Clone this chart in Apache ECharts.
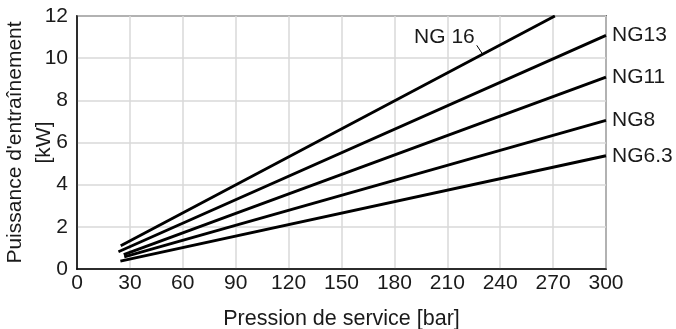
<!DOCTYPE html>
<html>
<head>
<meta charset="utf-8">
<script src="https://cdn.jsdelivr.net/npm/echarts@6/dist/echarts.min.js"></script>
<style>
  html, body { margin: 0; padding: 0; background: #fff; }
  #chart { width: 676px; height: 329px; }
</style>
</head>
<body>
<div id="chart"></div>
<script>
// curve names, start/end points [pressure bar, power kW]
const names = ["NG 16", "NG13", "NG11", "NG8", "NG6.3"];
const startPts = [[24.8, 1.10], [23.5, 0.82], [26.5, 0.68], [26.8, 0.58], [24.6, 0.37]];
const endPts = [[271, 12], [300, 11.08], [300, 9.10], [300, 7.05], [300, 5.37]];
// leader line of the "NG 16" callout
const leader16 = [[226.7, 10.61], [230.1, 10.18]];

const xTicks = [0, 30, 60, 90, 120, 150, 180, 210, 240, 270, 300];
const yTicks = [0, 2, 4, 6, 8, 10, 12];

const font = "'Liberation Sans', Arial, sans-serif";
const ink = "#000";
const textInk = "#1a1a1a";
const fs = 21;

const chart = echarts.init(document.getElementById("chart"), null, { renderer: "canvas" });

const series = names.map((name, i) => {
  const s = {
    name,
    type: "line",
    data: [startPts[i], endPts[i]],
    showSymbol: false,
    symbol: "none",
    silent: true,
    animation: false,
    lineStyle: { color: ink, width: 2.9 },
    endLabel: {
      show: i > 0,
      formatter: name,
      color: textInk,
      fontFamily: font,
      fontSize: fs,
      distance: 6,
    },
  };
  if (i === 0) {
    s.markLine = {
      silent: true,
      symbol: "none",
      animation: false,
      lineStyle: { color: ink, width: 1, type: "solid" },
      label: { show: false },
      data: [[{ coord: leader16[0] }, { coord: leader16[1] }]],
    };
    s.markPoint = {
      silent: true,
      animation: false,
      symbol: "circle",
      symbolSize: 0,
      label: {
        show: true,
        position: "left",
        distance: 2,
        offset: [0, -8],
        formatter: name,
        color: textInk,
        fontFamily: font,
        fontSize: fs,
      },
      data: [{ coord: leader16[0] }],
    };
  }
  return s;
});

chart.setOption({
  animation: false,
  textStyle: { fontFamily: font },
  grid: {
    left: 77, right: 70, top: 16, bottom: 60,
    outerBoundsMode: "none", containLabel: false,
    show: true, borderColor: ink, borderWidth: 1.5,
  },
  xAxis: {
    type: "value",
    min: xTicks[0],
    max: xTicks[xTicks.length - 1],
    interval: 30,
    name: "Pression de service [bar]",
    nameLocation: "middle",
    nameGap: 39,
    nameMoveOverlap: false,
    nameTextStyle: { color: textInk, fontSize: 21.5, fontFamily: font },
    axisLine: { show: true, lineStyle: { color: ink, width: 1.5 } },
    axisTick: { show: false },
    axisLabel: { color: textInk, fontSize: fs, fontFamily: font, margin: 4 },
    splitLine: { show: true, lineStyle: { color: "#d9d9d9", width: 1.5 } },
  },
  yAxis: {
    type: "value",
    min: yTicks[0],
    max: yTicks[yTicks.length - 1],
    interval: 2,
    name: "Puissance d'entraînement\n[kW]",
    nameLocation: "middle",
    nameGap: 18,
    nameMoveOverlap: false,
    nameTextStyle: { color: textInk, fontSize: fs, fontFamily: font, lineHeight: 29 },
    axisLine: { show: true, lineStyle: { color: ink, width: 1.5 } },
    axisTick: { show: false },
    axisLabel: { color: textInk, fontSize: fs, fontFamily: font, margin: 9 },
    splitLine: { show: true, lineStyle: { color: "#d9d9d9", width: 1.5 } },
  },
  series,
});
</script>
</body>
</html>
